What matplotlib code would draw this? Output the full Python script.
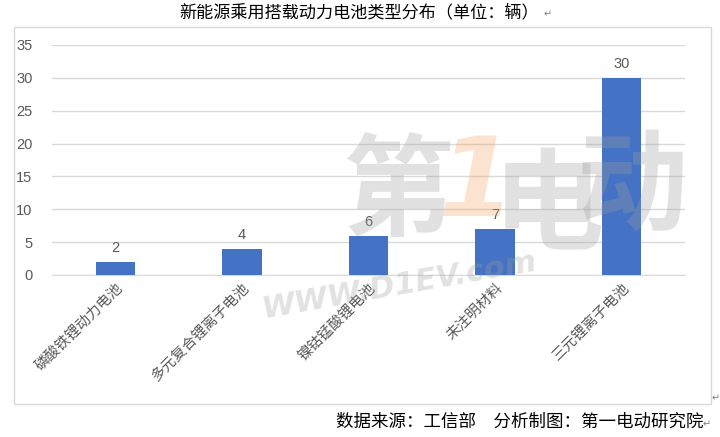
import matplotlib
matplotlib.use("Agg")
import matplotlib.pyplot as plt
from matplotlib.patches import Rectangle

plt.rcParams['font.family'] = ['Noto Sans CJK SC', 'DejaVu Sans']

categories = ["磷酸铁锂动力电池", "多元复合锂离子电池", "镍钴锰酸锂电池", "未注明材料", "三元锂离子电池"]
values = [2, 4, 6, 7, 30]
yticks = [0, 5, 10, 15, 20, 25, 30, 35]
title = "新能源乘用搭载动力电池类型分布（单位：辆）"
footer = "数据来源：工信部　分析制图：第一电动研究院"

W, H = 720, 437
fig = plt.figure(figsize=(W / 100, H / 100), dpi=100)

def fx(px):
    return px / W

def fy(py):
    return 1 - py / H

# chart border
fig.patches.append(Rectangle((fx(14), fy(404)), fx(711) - fx(14), fy(27) - fy(404),
                             transform=fig.transFigure, fill=False,
                             edgecolor="#D9D9D9", linewidth=1.0))

ax = fig.add_axes([fx(52), fy(275), fx(685) - fx(52), fy(45) - fy(275)])
ax.set_facecolor("none")
x = list(range(len(categories)))
bars = ax.bar(x, values, width=0.31, color="#4472C4", zorder=3)
for xi, v in zip(x, values):
    ax.text(xi, v + 1.0, str(v), ha="center", va="bottom", fontsize=10.5,
            color="#595959", family=["Liberation Sans", "DejaVu Sans"])

ax.set_xlim(-0.5, len(categories) - 0.5)
ax.set_ylim(0, 35)
ax.set_yticks(yticks)
ax.set_yticklabels([str(t) for t in yticks], fontsize=10.5, color="#595959",
                   family=["Liberation Sans", "DejaVu Sans"])
ax.yaxis.grid(True, color="#D9D9D9", linewidth=1.0, zorder=0)
ax.set_axisbelow(True)
for s in ["top", "right", "left"]:
    ax.spines[s].set_visible(False)
ax.spines["bottom"].set_color("#D9D9D9")
ax.tick_params(axis="y", length=0, pad=14)
ax.tick_params(axis="x", length=0, pad=4)
ax.set_xticks(x)
ax.set_xticklabels(categories, rotation=45, ha="right", rotation_mode="anchor",
                   fontsize=10.5, color="#595959")

# watermark (approximation of logo)
wm = dict(transform=fig.transFigure, fontsize=80, fontweight="bold", style="italic",
          alpha=0.3, va="center", ha="center", zorder=10)
fig.text(fx(398), fy(195), "第", color="#9E9E9E", **wm)
fig.text(fx(476), fy(185), "1", color="#F4A460", family=["DejaVu Sans"], **wm)
fig.text(fx(548), fy(208), "电", color="#9E9E9E", **wm)
fig.text(fx(632), fy(190), "动", color="#9E9E9E", **wm)
fig.text(fx(400), fy(285), "WWW.D1EV.com", transform=fig.transFigure, fontsize=22,
         style="italic", fontweight="bold", color="#9E9E9E", alpha=0.3,
         rotation=10, ha="center", va="center", family=["DejaVu Sans"], zorder=10)

# title and footer
fig.text(fx(359), fy(12), title, ha="center", va="center", fontsize=12.3, color="#000000")
fig.text(fx(544), fy(14), "↵", ha="left", va="center", fontsize=7, color="#808080",
         family=["DejaVu Sans"])
fig.text(fx(703), fy(422), footer, ha="right", va="center", fontsize=12.6, color="#000000")
fig.text(fx(703), fy(424), "↵", ha="left", va="center", fontsize=7, color="#808080",
         family=["DejaVu Sans"])
fig.text(fx(712), fy(398), "↵", ha="left", va="center", fontsize=7, color="#808080",
         family=["DejaVu Sans"])

fig.savefig("out.png", dpi=100)
